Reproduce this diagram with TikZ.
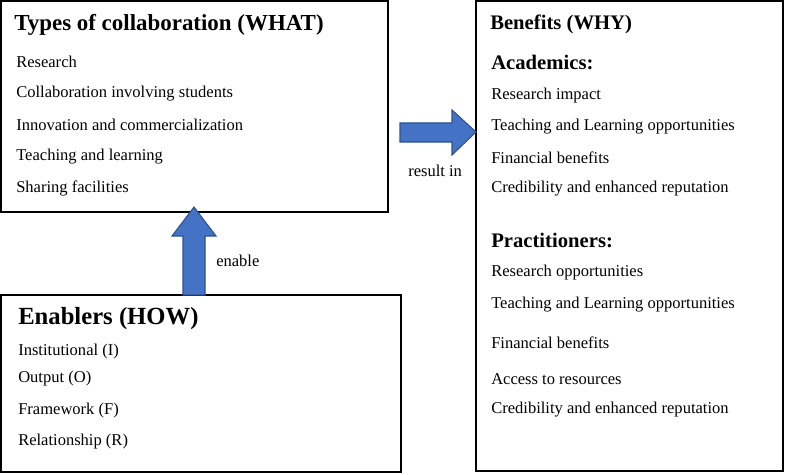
\documentclass[tikz,border=0pt]{standalone}
\usepackage{fontspec}
\setmainfont{Liberation Serif}
\begin{document}
\begin{tikzpicture}[x=0.75pt,y=-0.75pt,
  box/.style={draw=black,line width=0.8pt},
  it/.style={anchor=west,inner sep=0pt,font=\fontsize{12.4}{14}\selectfont},
  ttl/.style={anchor=west,inner sep=0pt,font=\fontsize{17.2}{19}\bfseries\selectfont},
  sub/.style={anchor=west,inner sep=0pt,font=\fontsize{15.5}{18}\bfseries\selectfont},
  arr/.style={fill=arrblue,draw=arrdark,line width=0.8pt}]
\definecolor{arrblue}{HTML}{4472C4}
\definecolor{arrdark}{HTML}{2F528F}
\useasboundingbox (0,0) rectangle (787,474);
\draw[box] (1,1) rectangle (388,212);
\draw[box] (476,1) rectangle (783,471);
\draw[box] (1,295) rectangle (401,472);
% arrows
\draw[arr] (400,123) -- (452,123) -- (452,110) -- (476,132) -- (452,155) -- (452,142) -- (400,142) -- cycle;
\draw[arr] (183,295) -- (183,236) -- (172,236) -- (194,207) -- (216,236) -- (205,236) -- (205,295) -- cycle;
\node[it] (lr) at (408,171) {result in};
\node[it] (le) at (216,261) {enable};
% WHAT
\node[ttl] (t1) at (14,25) {Types of collaboration (WHAT)};
\node[it] (a1) at (16,62) {Research};
\node[it] (a2) at (16,94) {Collaboration involving students};
\node[it] (a3) at (16,125) {Innovation and commercialization};
\node[it] (a4) at (16,157) {Teaching and learning};
\node[it] (a5) at (16,188) {Sharing facilities};
% WHY
\node[ttl,font=\fontsize{15.5}{18}\bfseries\selectfont] (t2) at (490,24) {Benefits (WHY)};
\node[sub] (s1) at (491,62) {Academics:};
\node[it] (b1) at (491,96) {Research impact};
\node[it] (b2) at (491,127) {Teaching and Learning opportunities};
\node[it] (b3) at (491,158) {Financial benefits};
\node[it] (b4) at (491,189) {Credibility and enhanced reputation};
\node[sub] (s2) at (491,240) {Practitioners:};
\node[it] (c1) at (491,273) {Research opportunities};
\node[it] (c2) at (491,305) {Teaching and Learning opportunities};
\node[it] (c3) at (491,343) {Financial benefits};
\node[it] (c4) at (491,379) {Access to resources};
\node[it] (c5) at (491,410) {Credibility and enhanced reputation};
% HOW
\node[ttl,font=\fontsize{18.5}{21}\bfseries\selectfont] (t3) at (18,319) {Enablers (HOW)};
\node[it] (d1) at (18,352) {Institutional (I)};
\node[it] (d2) at (18,379) {Output (O)};
\node[it] (d3) at (18,411) {Framework (F)};
\node[it] (d4) at (18,442) {Relationship (R)};
\end{tikzpicture}
\end{document}
